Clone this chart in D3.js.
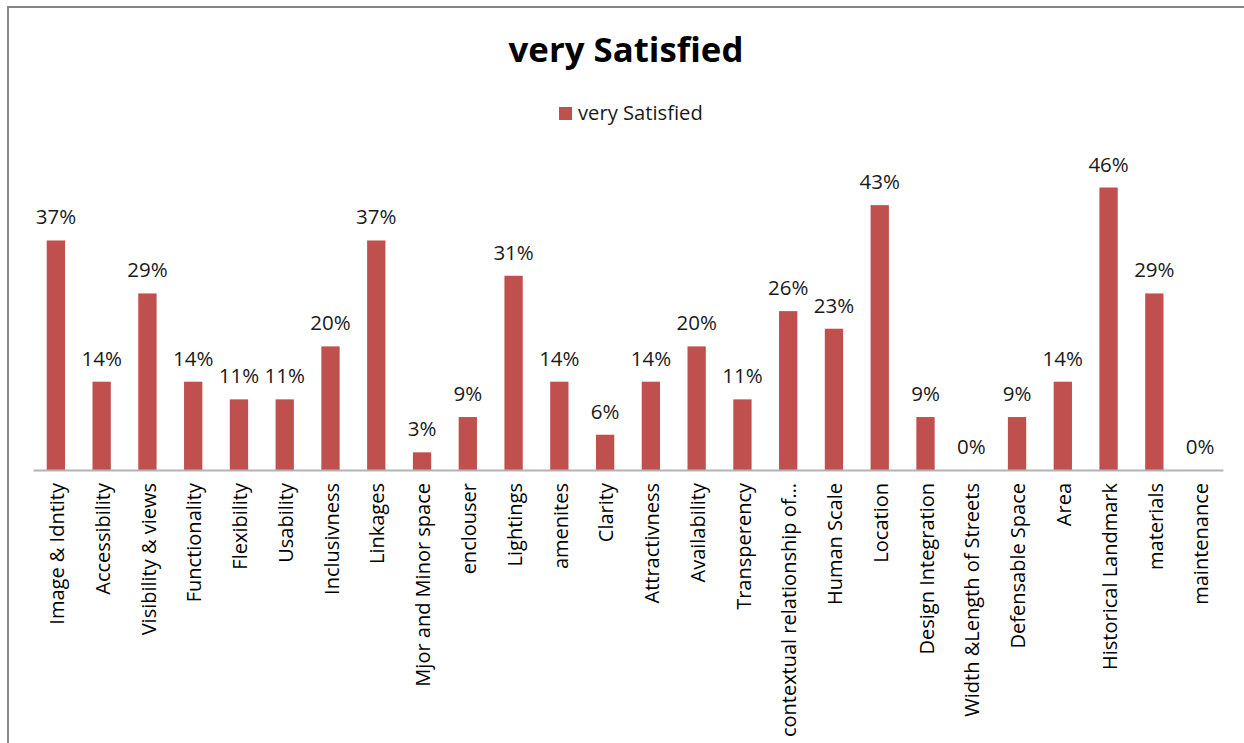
<!DOCTYPE html>
<html>
<head>
<meta charset="utf-8">
<script src="https://cdn.jsdelivr.net/npm/d3@7"></script>
<style>
  html, body { margin: 0; padding: 0; background: #fff; }
  svg { display: block; }
  text { font-family: "Open Sans", Lato, sans-serif; }
</style>
</head>
<body>
<svg id="chart" width="1244" height="743"></svg>
<script>
// Survey results: share of respondents "very Satisfied" per design criterion
const categories = [
  "Image & Idntity", "Accessibility", "Visibility & views", "Functionality",
  "Flexibility", "Usability", "Inclusivness", "Linkages", "Mjor and Minor space",
  "enclouser", "Lightings", "amenites", "Clarity", "Attractivness", "Availability",
  "Transperency", "contextual relationship of\u2026", "Human Scale", "Location",
  "Design Integration", "Width &Length of Streets", "Defensable Space", "Area",
  "Historical Landmark", "materials", "maintenance"
];
const verySatisfied = [
  0.3714, 0.1429, 0.2857, 0.1429, 0.1143, 0.1143, 0.2000, 0.3714, 0.0286,
  0.0857, 0.3143, 0.1429, 0.0571, 0.1429, 0.2000, 0.1143, 0.2571, 0.2286,
  0.4286, 0.0857, 0.0000, 0.0857, 0.1429, 0.4571, 0.2857, 0.0000
];
const seriesName = "very Satisfied";
const chartTitle = "very Satisfied";
const yDomain = [0, 0.5];

const svg = d3.select("#chart");
const barColor = "#C0504D";

// chart area frame
svg.append("rect")
  .attr("x", 8).attr("y", 7)
  .attr("width", 1260).attr("height", 760)
  .attr("fill", "#fff")
  .attr("stroke", "#868686")
  .attr("stroke-width", 2);

const plot = { left: 33, right: 1223, top: 161, bottom: 470 };

const x = d3.scaleBand()
  .domain(categories)
  .range([plot.left, plot.right])
  .paddingInner(0.6)
  .paddingOuter(0.3);

const y = d3.scaleLinear()
  .domain(yDomain)
  .range([plot.bottom, plot.top]);

const data = categories.map((c, i) => ({ cat: c, value: verySatisfied[i] }));
const fmt = d3.format(".0%");

// bars
svg.append("g")
  .selectAll("rect")
  .data(data)
  .join("rect")
  .attr("x", d => x(d.cat))
  .attr("y", d => y(d.value))
  .attr("width", x.bandwidth())
  .attr("height", d => y(0) - y(d.value))
  .attr("fill", barColor);

// category axis
const xAxis = svg.append("g")
  .attr("transform", `translate(0,${plot.bottom})`)
  .call(d3.axisBottom(x).tickSize(0).tickSizeOuter(0).tickPadding(0));
xAxis.select(".domain").attr("stroke", "#b3b3b3").attr("stroke-width", 2);
xAxis.selectAll(".tick text")
  .attr("font-family", "'Open Sans', Lato, sans-serif")
  .attr("font-size", 20)
  .attr("fill", "#000")
  .attr("text-anchor", "end")
  .attr("transform", "translate(1,13) rotate(-90)")
  .attr("x", 0)
  .attr("y", 0)
  .attr("dy", "0.36em");

// value labels
svg.append("g")
  .selectAll("text")
  .data(data)
  .join("text")
  .attr("x", d => x(d.cat) + x.bandwidth() / 2)
  .attr("y", d => y(d.value) - 16)
  .attr("text-anchor", "middle")
  .attr("font-size", 20.5)
  .attr("fill", "#1a1a1a")
  .text(d => fmt(d.value));

// title
svg.append("text")
  .attr("x", 626)
  .attr("y", 62)
  .attr("text-anchor", "middle")
  .attr("font-size", 34.8)
  .attr("font-weight", "bold")
  .attr("fill", "#000")
  .text(chartTitle);

// legend
const legend = svg.append("g").attr("transform", "translate(559,107)");
legend.append("rect")
  .attr("width", 13).attr("height", 13)
  .attr("fill", barColor);
legend.append("text")
  .attr("x", 19)
  .attr("y", 13)
  .attr("font-size", 20.2)
  .attr("fill", "#1a1a1a")
  .text(seriesName);
</script>
</body>
</html>
